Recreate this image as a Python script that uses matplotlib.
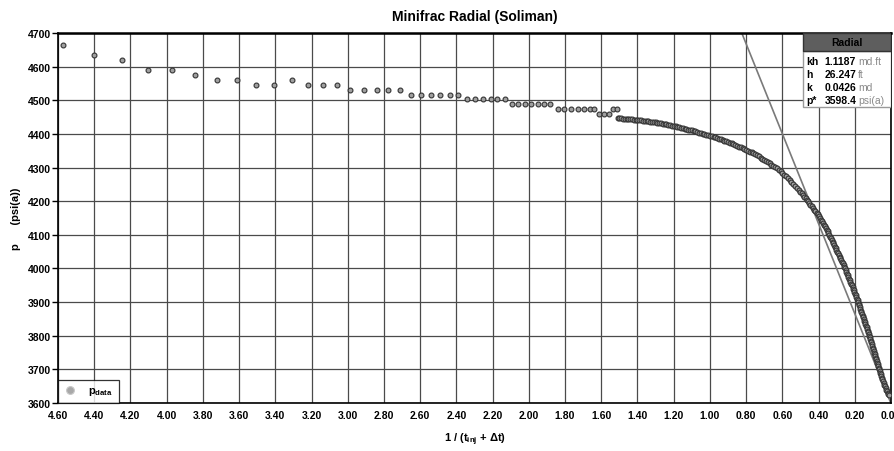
import numpy as np
import matplotlib.pyplot as plt
from matplotlib.patches import Rectangle

plt.rcParams['font.family'] = ['Liberation Sans', 'DejaVu Sans']
plt.rcParams['mathtext.default'] = 'regular'

# p_data, partie espacee (debut de la fermeture)
sparse_x = [4.574, 4.400, 4.247, 4.103, 3.969, 3.842, 3.722, 3.612, 3.505, 3.406,
            3.310, 3.221, 3.137, 3.058, 2.986, 2.910, 2.840, 2.776, 2.712, 2.652,
            2.596, 2.542, 2.489, 2.437, 2.390, 2.343, 2.299, 2.255, 2.211, 2.174,
            2.132, 2.093, 2.058, 2.023, 1.988, 1.951, 1.916, 1.882, 1.838, 1.806,
            1.767, 1.730, 1.697, 1.662, 1.639, 1.611, 1.585, 1.556, 1.534, 1.512]
sparse_y = [4663, 4634, 4619, 4590, 4590, 4575, 4561, 4561, 4546, 4546,
            4561, 4546, 4546, 4546, 4532, 4532, 4532, 4532, 4532, 4517,
            4517, 4517, 4517, 4517, 4517, 4503, 4503, 4503, 4503, 4503,
            4503, 4488, 4488, 4488, 4488, 4488, 4488, 4488, 4474, 4474,
            4474, 4474, 4474, 4474, 4474, 4459, 4459, 4459, 4474, 4474]

# p_data, partie dense (fin de la fermeture)
dense_x = [1.51, 1.50, 1.49, 1.48, 1.47, 1.46, 1.45, 1.44, 1.43, 1.42,
           1.41, 1.40, 1.39, 1.38, 1.37, 1.36, 1.35, 1.34, 1.33, 1.32,
           1.31, 1.30, 1.29, 1.28, 1.27, 1.26, 1.25, 1.24, 1.23, 1.22,
           1.21, 1.20, 1.19, 1.18, 1.17, 1.16, 1.15, 1.14, 1.13, 1.12,
           1.11, 1.10, 1.09, 1.08, 1.07, 1.06, 1.05, 1.04, 1.03, 1.02,
           1.01, 1.00, 0.99, 0.98, 0.97, 0.96, 0.95, 0.94, 0.93, 0.92,
           0.91, 0.90, 0.89, 0.88, 0.87, 0.86, 0.85, 0.84, 0.83, 0.82,
           0.81, 0.80, 0.79, 0.78, 0.77, 0.76, 0.75, 0.74, 0.73, 0.72,
           0.71, 0.70, 0.69, 0.68, 0.67, 0.66, 0.65, 0.64, 0.63, 0.62,
           0.61, 0.60, 0.59, 0.58, 0.57, 0.56, 0.55, 0.54, 0.53, 0.52,
           0.51, 0.50, 0.493, 0.486, 0.479, 0.472, 0.466, 0.460, 0.453, 0.446,
           0.439, 0.432, 0.425, 0.418, 0.411, 0.404, 0.397, 0.390, 0.385, 0.380,
           0.375, 0.370, 0.365, 0.360, 0.355, 0.350, 0.346, 0.341, 0.337, 0.332,
           0.328, 0.323, 0.319, 0.314, 0.310, 0.305, 0.301, 0.296, 0.292, 0.288,
           0.283, 0.279, 0.275, 0.271, 0.266, 0.262, 0.258, 0.254, 0.250, 0.246,
           0.242, 0.239, 0.235, 0.231, 0.227, 0.224, 0.220, 0.216, 0.212, 0.209,
           0.205, 0.202, 0.198, 0.195, 0.191, 0.188, 0.184, 0.181, 0.178, 0.175,
           0.172, 0.169, 0.166, 0.163, 0.159, 0.156, 0.153, 0.150, 0.147, 0.144,
           0.141, 0.138, 0.135, 0.132, 0.129, 0.126, 0.123, 0.120, 0.117, 0.114,
           0.111, 0.108, 0.105, 0.103, 0.100, 0.097, 0.094, 0.092, 0.089, 0.086,
           0.083, 0.081, 0.078, 0.076, 0.073, 0.071, 0.068, 0.066, 0.063, 0.060,
           0.056, 0.053, 0.050, 0.047, 0.043, 0.040, 0.037, 0.034, 0.030, 0.027,
           0.023, 0.019, 0.016, 0.013]
dense_y = [4447, 4446, 4446, 4445, 4445, 4444, 4444, 4443, 4443, 4442,
           4442, 4441, 4440, 4440, 4439, 4438, 4438, 4437, 4436, 4435,
           4435, 4434, 4433, 4432, 4431, 4430, 4429, 4428, 4427, 4426,
           4425, 4424, 4423, 4421, 4420, 4419, 4418, 4416, 4415, 4413,
           4412, 4411, 4409, 4408, 4406, 4404, 4403, 4401, 4400, 4398,
           4397, 4395, 4393, 4391, 4390, 4388, 4386, 4384, 4382, 4380,
           4378, 4376, 4374, 4372, 4370, 4367, 4365, 4362, 4360, 4357,
           4355, 4353, 4350, 4347, 4345, 4342, 4339, 4336, 4333, 4329,
           4326, 4323, 4320, 4316, 4313, 4309, 4306, 4302, 4298, 4293,
           4289, 4284, 4279, 4274, 4269, 4264, 4258, 4252, 4246, 4240,
           4234, 4228, 4223, 4218, 4213, 4208, 4204, 4200, 4195, 4190,
           4185, 4180, 4175, 4170, 4165, 4161, 4155, 4150, 4145, 4140,
           4135, 4130, 4125, 4120, 4115, 4110, 4105, 4100, 4095, 4090,
           4085, 4080, 4075, 4070, 4065, 4060, 4055, 4050, 4045, 4040,
           4035, 4030, 4025, 4020, 4015, 4010, 4005, 4000, 3995, 3990,
           3985, 3980, 3975, 3970, 3965, 3960, 3955, 3950, 3945, 3940,
           3935, 3930, 3925, 3920, 3915, 3910, 3905, 3900, 3895, 3890,
           3885, 3880, 3875, 3870, 3865, 3860, 3855, 3850, 3845, 3840,
           3835, 3830, 3825, 3820, 3815, 3810, 3805, 3800, 3795, 3790,
           3785, 3780, 3775, 3770, 3765, 3760, 3755, 3750, 3745, 3740,
           3735, 3730, 3725, 3720, 3715, 3710, 3705, 3700, 3695, 3690,
           3685, 3680, 3675, 3670, 3665, 3660, 3655, 3650, 3645, 3640,
           3635, 3630, 3627, 3625]

# droite radiale (p* a x = 0)
line_x = [0.0, 0.824]
line_y = [3598.4, 4700.0]

# encadre des resultats
res_labels = ['kh', 'h', 'k', 'p*']
res_values = ['1.1187', '26.247', '0.0426', '3598.4']
res_units = ['md.ft', 'ft', 'md', 'psi(a)']

fig = plt.figure(figsize=(8.95, 4.52), dpi=100)
ax = fig.add_axes([58 / 895, 1 - 404 / 452, 833 / 895, 370 / 452])

p_x = sparse_x + dense_x
p_y = sparse_y + dense_y
ax.plot(p_x, p_y, 'o', ls='none', ms=3.5, mfc='#a0a0a0', mec='#333333', mew=0.8,
        label=r'p$_{data}$', zorder=3)
ax.plot(line_x, line_y, color='#7a7a7a', lw=1.2, zorder=2)

ax.set_xlim(4.6, 0.0)
ax.set_ylim(3600, 4700)
xt = np.arange(0, 4.61, 0.2)
ax.set_xticks(xt)
ax.set_xticklabels([f'{v:.2f}' for v in xt])
ax.set_yticks(np.arange(3600, 4701, 100))
ax.tick_params(axis='x', length=0, pad=5, labelsize=7.5)
ax.tick_params(axis='y', length=4, width=1, pad=1, labelsize=7.5)
for lab in ax.get_xticklabels() + ax.get_yticklabels():
    lab.set_fontweight('bold')

ax.grid(True, color='#4a4a4a', lw=0.9)
ax.set_axisbelow(True)
for s in ax.spines.values():
    s.set_color('black')
    s.set_linewidth(1.2)
ax.spines['top'].set_linewidth(1.8)

ax.set_title('Minifrac Radial (Soliman)', fontsize=10, fontweight='bold', pad=9)
ax.set_xlabel('1 / (t$_{inj}$ + Δt)', fontsize=8, fontweight='bold', labelpad=8)
ax.set_ylabel('p      (psi(a))', fontsize=8, fontweight='bold', labelpad=5)

leg = ax.legend(loc='lower left', borderaxespad=0, fancybox=False, edgecolor='black',
                handlelength=1.2, markerscale=1.6, prop={'weight': 'bold', 'size': 8},
                borderpad=0.5, handletextpad=1.0)
leg.get_frame().set_linewidth(0.9)
leg.legend_handles[0].set_markerfacecolor('#a8a8a8')
leg.legend_handles[0].set_markeredgecolor('#c8c8c8')

# encadre "Radial"
x0 = 0.894
ax.add_patch(Rectangle((x0, 0.80), 1 - x0, 0.151, transform=ax.transAxes,
                       facecolor='white', edgecolor='#9a9a9a', lw=1, zorder=5))
ax.add_patch(Rectangle((x0, 0.951), 1 - x0, 0.049, transform=ax.transAxes,
                       facecolor='#5e5e5e', edgecolor='#333333', lw=1, zorder=6))
ax.text((x0 + 1) / 2, 0.975, 'Radial', transform=ax.transAxes, ha='center', va='center',
        fontsize=7.5, fontweight='bold', color='black', zorder=7)
row_y = [0.924, 0.889, 0.854, 0.819]
for lab, val, unit, yy in zip(res_labels, res_values, res_units, row_y):
    ax.text(0.898, yy, lab, transform=ax.transAxes, ha='left', va='center',
            fontsize=7.5, fontweight='bold', zorder=7)
    t = ax.text(0.920, yy, val, transform=ax.transAxes, ha='left', va='center',
                fontsize=7.5, fontweight='bold', zorder=7)
    ax.annotate(unit, xy=(1, 0.5), xycoords=t, xytext=(1.5, 0), textcoords='offset points',
                ha='left', va='center', fontsize=7.5, color='#8a8a8a', zorder=7)

fig.savefig('out.png', dpi=100)
